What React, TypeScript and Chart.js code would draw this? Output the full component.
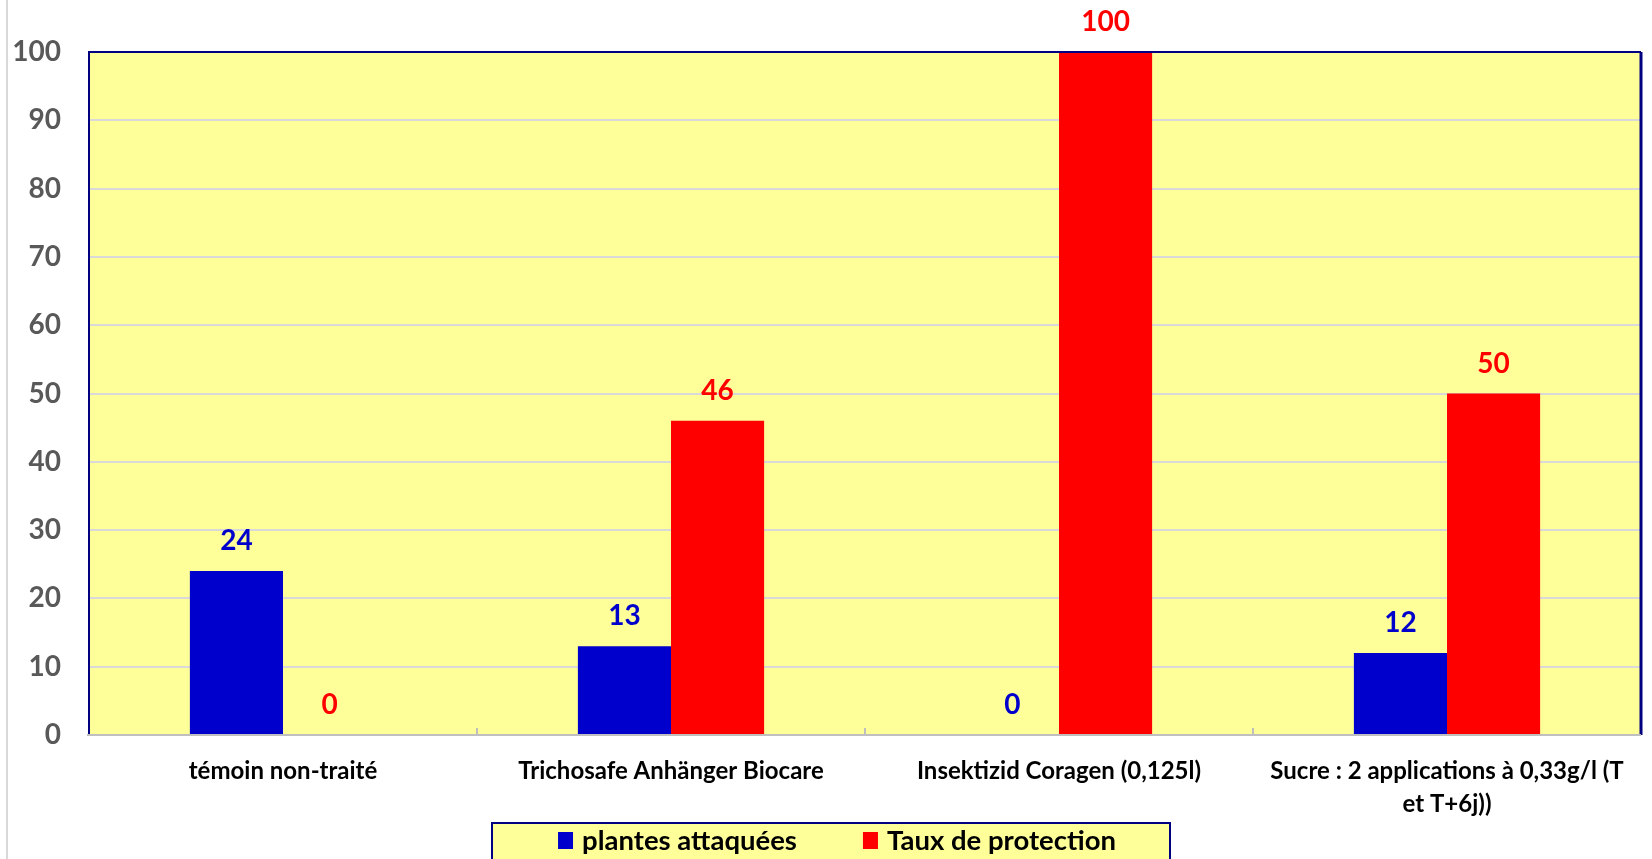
import React, { useEffect, useRef } from "react";
import { Chart, registerables } from "chart.js";

Chart.register(...registerables);

const categories: (string | string[])[] = [
  "témoin non-traité",
  "Trichosafe Anhänger Biocare",
  "Insektizid Coragen (0,125l)",
  ["Sucre : 2 applications à 0,33g/l (T", "et T+6j))"],
];
const plantesAttaquees = [24, 13, 0, 12];
const tauxProtection = [0, 46, 100, 50];
const seriesNames = ["plantes attaquées", "Taux de protection"];
const seriesColors = ["#0000CC", "#FF0000"];

const FONT = "Lato, 'Open Sans', sans-serif";

const framePlugin = {
  id: "framePlugin",
  beforeDraw(chart: any) {
    const { ctx, chartArea } = chart;
    ctx.save();
    ctx.fillStyle = "#FFFF99";
    ctx.fillRect(chartArea.left, chartArea.top, chartArea.right - chartArea.left, chartArea.bottom - chartArea.top);
    ctx.strokeStyle = "#D9D9D9";
    ctx.lineWidth = 2;
    ctx.beginPath();
    ctx.moveTo(7, 0);
    ctx.lineTo(7, chart.height);
    ctx.stroke();
    ctx.restore();
  },
  afterDatasetsDraw(chart: any) {
    const { ctx, chartArea } = chart;
    const x = chart.scales.x;
    ctx.save();
    ctx.strokeStyle = "#000080";
    ctx.lineWidth = 2;
    ctx.beginPath();
    ctx.moveTo(chartArea.left, chartArea.bottom);
    ctx.lineTo(chartArea.left, chartArea.top);
    ctx.lineTo(chartArea.right, chartArea.top);
    ctx.stroke();
    ctx.lineWidth = 3;
    ctx.beginPath();
    ctx.moveTo(chartArea.right, chartArea.top);
    ctx.lineTo(chartArea.right, chartArea.bottom);
    ctx.stroke();
    ctx.strokeStyle = "#BFBFBF";
    ctx.lineWidth = 2;
    ctx.beginPath();
    ctx.moveTo(chartArea.left - 2, chartArea.bottom);
    ctx.lineTo(chartArea.right, chartArea.bottom);
    ctx.stroke();
    const n = chart.data.labels.length;
    for (let i = 1; i < n; i++) {
      const px = (x.getPixelForValue(i - 1) + x.getPixelForValue(i)) / 2;
      ctx.beginPath();
      ctx.moveTo(px, chartArea.bottom);
      ctx.lineTo(px, chartArea.bottom - 7);
      ctx.stroke();
    }
    ctx.font = `bold 28px ${FONT}`;
    ctx.textAlign = "center";
    ctx.textBaseline = "middle";
    chart.data.datasets.forEach((ds: any, di: number) => {
      const meta = chart.getDatasetMeta(di);
      ctx.fillStyle = ds.backgroundColor;
      meta.data.forEach((el: any, i: number) => {
        ctx.fillText(String(ds.data[i]), el.x, el.y - 30);
      });
    });
    ctx.restore();
  },
  afterDraw(chart: any) {
    const { ctx } = chart;
    ctx.save();
    const boxX = 492, boxY = 823, boxW = 678, boxH = 60;
    ctx.fillStyle = "#FFFF99";
    ctx.fillRect(boxX, boxY, boxW, boxH);
    ctx.strokeStyle = "#000080";
    ctx.lineWidth = 2;
    ctx.strokeRect(boxX, boxY, boxW, boxH);
    ctx.font = `bold 27.5px ${FONT}`;
    ctx.textBaseline = "middle";
    ctx.textAlign = "left";
    const sq = 15, gap = 9, itemGap = 66;
    const items = chart.data.datasets.map((ds: any) => ({
      label: ds.label,
      color: ds.backgroundColor,
      w: ctx.measureText(ds.label).width,
    }));
    const total = items.reduce((s: number, it: any) => s + sq + gap + it.w, 0) + itemGap * (items.length - 1);
    let cx = 837 - total / 2;
    const cy = 840;
    items.forEach((it: any) => {
      ctx.fillStyle = it.color;
      ctx.fillRect(cx, cy - 8, sq, 17);
      cx += sq + gap;
      ctx.fillStyle = "#000000";
      ctx.fillText(it.label, cx, cy + 1);
      cx += it.w + itemGap;
    });
    ctx.restore();
  },
};

export default function App() {
  const ref = useRef<HTMLCanvasElement | null>(null);
  useEffect(() => {
    if (!ref.current) return;
    const chart = new Chart(ref.current, {
      type: "bar",
      data: {
        labels: categories,
        datasets: [
          { label: seriesNames[0], data: plantesAttaquees, backgroundColor: seriesColors[0], categoryPercentage: 0.48, barPercentage: 1 },
          { label: seriesNames[1], data: tauxProtection, backgroundColor: seriesColors[1], categoryPercentage: 0.48, barPercentage: 1 },
        ],
      },
      options: {
        responsive: false,
        animation: false,
        layout: { padding: { top: 52, right: 11, bottom: 0, left: 0 } },
        plugins: { legend: { display: false }, tooltip: { enabled: false } },
        scales: {
          x: {
            grid: { display: false },
            border: { display: false },
            ticks: {
              color: "#000000",
              font: { family: FONT, weight: "bold", size: 24, lineHeight: 1.36 } as any,
              padding: 12,
              maxRotation: 0,
              autoSkip: false,
            },
            afterFit: (s: any) => { s.height = 124; },
          },
          y: {
            min: 0,
            max: 100,
            grid: { color: "#D9D9D9", lineWidth: 2, drawTicks: false },
            border: { display: false },
            ticks: {
              stepSize: 10,
              color: "#595959",
              font: { family: FONT, weight: "bold", size: 28 },
              padding: 28,
            },
            afterFit: (s: any) => { s.width = 89; },
          },
        },
      },
      plugins: [framePlugin],
    });
    return () => chart.destroy();
  }, []);
  return (
    <div style={{ position: "fixed", left: 0, top: 0, width: 1652, height: 859, background: "#fff" }}>
      <canvas ref={ref} width={1652} height={859} style={{ display: "block" }} />
    </div>
  );
}
